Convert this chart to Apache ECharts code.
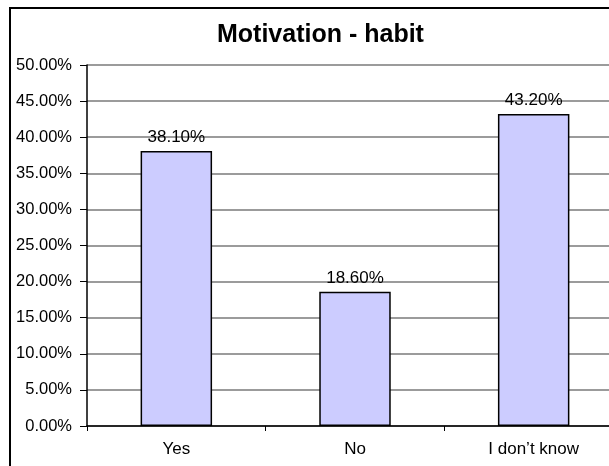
<!DOCTYPE html>
<html>
<head>
<meta charset="utf-8">
<script src="https://cdn.jsdelivr.net/npm/echarts@6/dist/echarts.min.js"></script>
<style>
  html, body { margin: 0; padding: 0; background: #fff; }
  #chart { width: 609px; height: 466px; }
</style>
</head>
<body>
<div id="chart"></div>
<script>
const categories = ['Yes', 'No', 'I don\u2019t know'];
const habitValues = [38.1, 18.6, 43.2];
const yTicks = [0, 5, 10, 15, 20, 25, 30, 35, 40, 45, 50];

const myChart = echarts.init(document.getElementById('chart'));

const fmt = (v) => Number(v).toFixed(2) + '%';

const option = {
    backgroundColor: '#fff',
    textStyle: { fontFamily: 'Liberation Sans, Arial, sans-serif', color: '#000' },
    // outer chart border (clipped on the right and bottom like the original)
    graphic: [
        {
            type: 'rect',
            shape: { x: 10, y: 8, width: 700, height: 600 },
            style: { fill: 'none', stroke: '#000', lineWidth: 2 },
            silent: true,
        },
    ],
    title: {
        text: 'Motivation - habit',
        left: 212,
        top: 18,
        textStyle: { fontSize: 25, fontWeight: 'bold', color: '#000', fontFamily: 'Liberation Sans, Arial, sans-serif' },
    },
    grid: { left: 87, top: 65, width: 536, height: 361, containLabel: false, outerBoundsMode: 'none' },
    xAxis: {
        type: 'category',
        data: categories,
        axisLine: { lineStyle: { color: '#000', width: 1.5 } },
        axisTick: { show: true, length: 5, alignWithLabel: false, lineStyle: { color: '#000' } },
        axisLabel: { color: '#000', fontSize: 17, margin: 15 },
    },
    yAxis: {
        type: 'value',
        min: yTicks[0],
        max: yTicks[yTicks.length - 1],
        interval: 5,
        axisLine: { show: true, lineStyle: { color: '#000', width: 1.5 } },
        axisTick: { show: true, length: 7, lineStyle: { color: '#000' } },
        axisLabel: { color: '#000', fontSize: 16.5, margin: 15, formatter: fmt },
        splitLine: { show: true, lineStyle: { color: '#7a7a7a', width: 1.5 } },
    },
    series: [
        {
            type: 'bar',
            data: habitValues,
            barWidth: '40%',
            itemStyle: { color: '#ccccff', borderColor: '#000', borderWidth: 1.5 },
            label: {
                show: true,
                position: 'top',
                distance: 5,
                color: '#000',
                fontSize: 17,
                formatter: (p) => fmt(p.value),
            },
            animation: false,
        },
    ],
    animation: false,
};
myChart.setOption(option);
</script>
</body>
</html>
